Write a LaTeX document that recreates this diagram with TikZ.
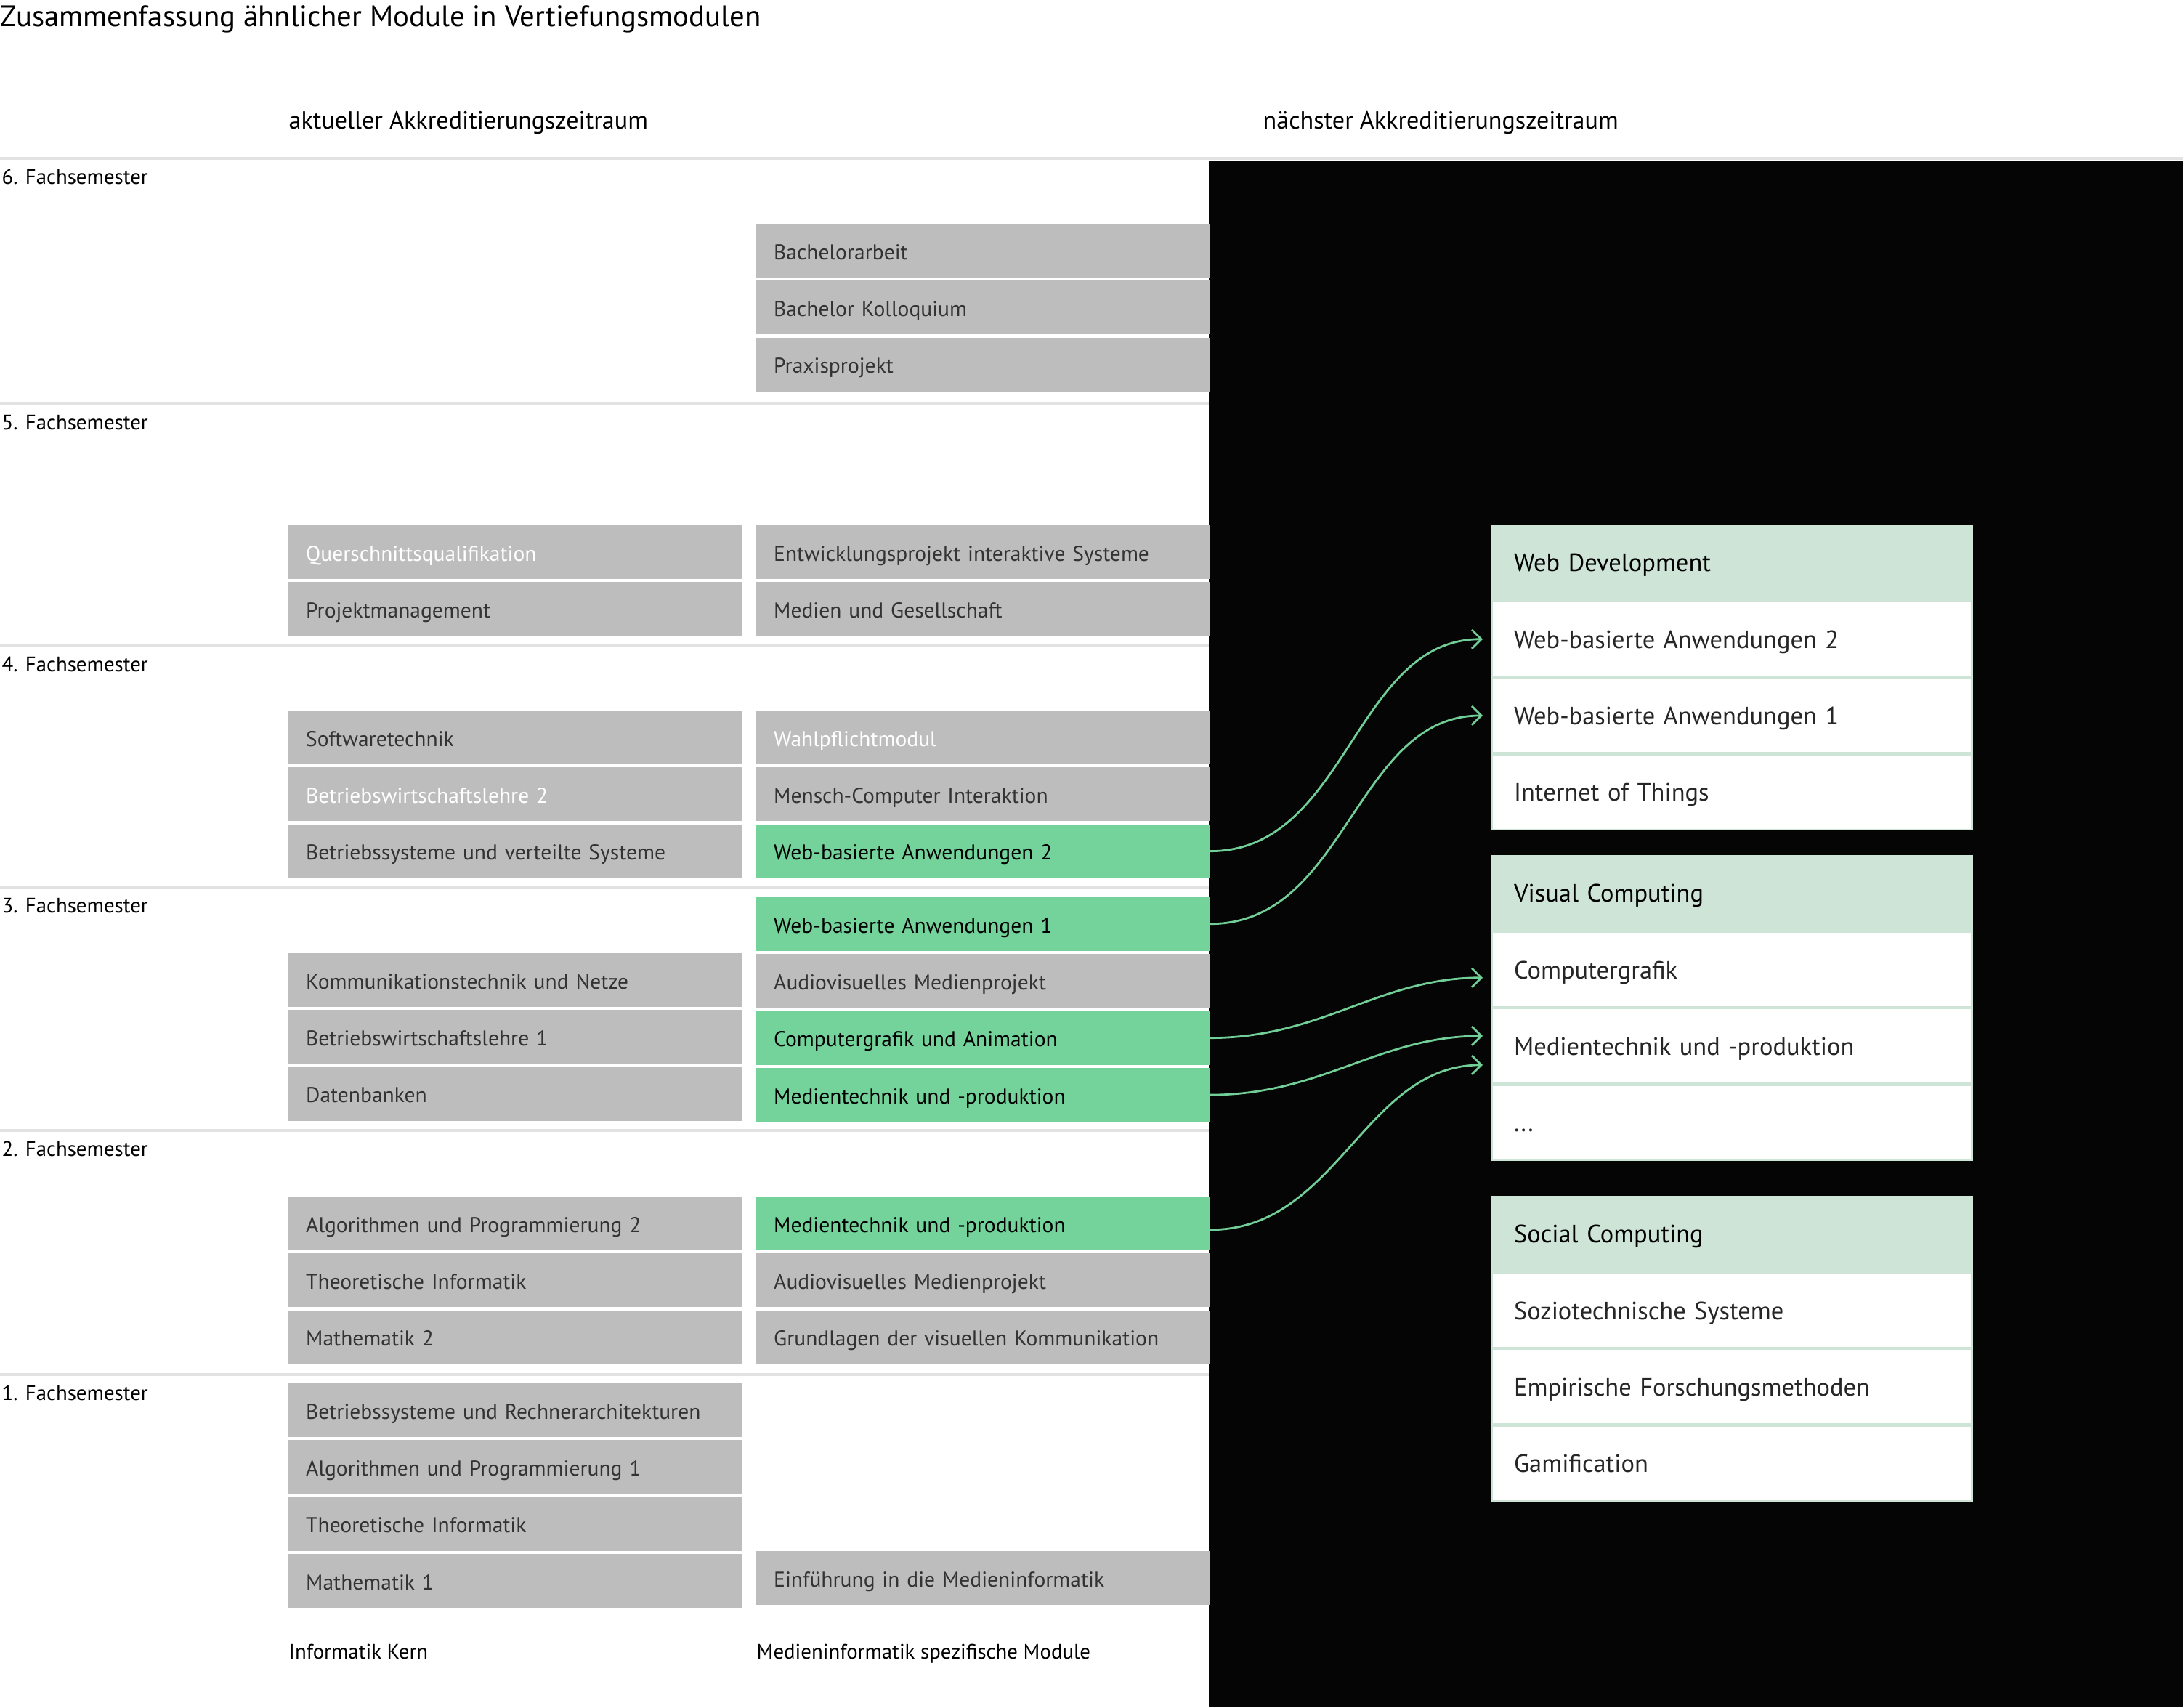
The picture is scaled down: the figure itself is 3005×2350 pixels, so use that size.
\documentclass[tikz,border=0pt]{standalone}
\usepackage{fontspec}
\setmainfont{PT Sans}
\usetikzlibrary{arrows.meta,positioning,calc}

\definecolor{modgray}{RGB}{189,189,189}
\definecolor{modgreen}{RGB}{116,211,154}
\definecolor{headgreen}{RGB}{205,228,215}
\definecolor{rulegray}{RGB}{226,226,226}
\definecolor{linkgreen}{RGB}{112,206,150}
\definecolor{textgray}{RGB}{51,51,51}
\definecolor{darkbg}{RGB}{5,5,5}

\begin{document}
\begin{tikzpicture}[x=0.01cm,y=-0.01cm,node distance=0.03cm,
  modbox/.style={fill=modgray,text=textgray,font=\fontsize{8.4}{10}\selectfont,
    minimum width=6.25cm,minimum height=0.74cm,text width=5.74cm,inner xsep=0.255cm,
    align=left,text height=0.7em,text depth=0pt,anchor=north west},
  modhit/.style={modbox,fill=modgreen,text=black},
  modwhite/.style={modbox,text=white},
  grpitem/.style={fill=white,draw=headgreen,line width=0.6pt,text=black!85,
    font=\fontsize{9.8}{12}\selectfont,minimum width=6.6cm,minimum height=1.03cm,
    text width=6.0cm,inner xsep=0.29cm,align=left,text height=0.7em,text depth=0pt},
  grphead/.style={grpitem,fill=headgreen,text=black,anchor=north west},
  semtext/.style={font=\fontsize{8.2}{10}\selectfont,inner sep=0pt,anchor=base west},
  link/.style={linkgreen,line width=0.8pt,shorten >=0.12cm,
    -{Straight Barb[length=1.3mm,width=2.6mm]}}]
  \useasboundingbox (0,0) rectangle (3005,2350);

  % title and column heads
  \node[semtext,font=\fontsize{11.6}{14}\selectfont] (title) at (0,36)
    {Zusammenfassung ähnlicher Module in Vertiefungsmodulen};
  \node[semtext,font=\fontsize{9.7}{12}\selectfont] (cur) at (397,177) {aktueller Akkreditierungszeitraum};
  \node[semtext,font=\fontsize{9.7}{12}\selectfont] (nxt) at (1738,177) {nächster Akkreditierungszeitraum};

  % semester rules
  \draw[rulegray,line width=1pt] (0,218) -- (3005,218);
  \foreach \y in {556,889,1221,1556,1892}
    \draw[rulegray,line width=1pt] (0,\y) -- (1664,\y);
  \fill[darkbg] (1664,221) rectangle (3005,2350);
  \foreach \y/\s in {218/6,556/5,889/4,1221/3,1556/2,1892/1}
    \node[semtext] (sem\s) at (2,\y+35) {\s. Fachsemester};

  % 6. Fachsemester
  \node[modbox] (ba) at (1039,307) {Bachelorarbeit};
  \node[modbox,below=of ba] (bk) {Bachelor Kolloquium};
  \node[modbox,below=of bk] (pp) {Praxisprojekt};

  % 5. Fachsemester
  \node[modwhite] (qs) at (395,722) {Querschnittsqualifikation};
  \node[modbox,below=of qs] (pm) {Projektmanagement};
  \node[modbox] (ep) at (1039,722) {Entwicklungsprojekt interaktive Systeme};
  \node[modbox,below=of ep] (mg) {Medien und Gesellschaft};

  % 4. Fachsemester
  \node[modbox] (st) at (395,977) {Softwaretechnik};
  \node[modwhite,below=of st] (bwl2) {Betriebswirtschaftslehre 2};
  \node[modbox,below=of bwl2] (bvs) {Betriebssysteme und verteilte Systeme};
  \node[modwhite] (wp) at (1039,977) {Wahlpflichtmodul};
  \node[modbox,below=of wp] (mci) {Mensch-Computer Interaktion};
  \node[modhit,below=of mci] (wba2) {Web-basierte Anwendungen 2};

  % 3. Fachsemester
  \node[modhit] (wba1) at (1039,1234) {Web-basierte Anwendungen 1};
  \node[modbox] (kn) at (395,1311) {Kommunikationstechnik und Netze};
  \node[modbox,below=of kn] (bwl1) {Betriebswirtschaftslehre 1};
  \node[modbox,below=of bwl1] (db) {Datenbanken};
  \node[modbox,below=of wba1] (avm3) {Audiovisuelles Medienprojekt};
  \node[modhit,below=of avm3] (cga) {Computergrafik und Animation};
  \node[modhit,below=of cga] (mtp3) {Medientechnik und -produktion};

  % 2. Fachsemester
  \node[modbox] (ap2) at (395,1646) {Algorithmen und Programmierung 2};
  \node[modbox,below=of ap2] (ti2) {Theoretische Informatik};
  \node[modbox,below=of ti2] (ma2) {Mathematik 2};
  \node[modhit] (mtp2) at (1039,1646) {Medientechnik und -produktion};
  \node[modbox,below=of mtp2] (avm2) {Audiovisuelles Medienprojekt};
  \node[modbox,below=of avm2] (gvk) {Grundlagen der visuellen Kommunikation};

  % 1. Fachsemester
  \node[modbox] (bsr) at (395,1903) {Betriebssysteme und Rechnerarchitekturen};
  \node[modbox,below=of bsr] (ap1) {Algorithmen und Programmierung 1};
  \node[modbox,below=of ap1] (ti1) {Theoretische Informatik};
  \node[modbox,below=of ti1] (ma1) {Mathematik 1};
  \node[modbox] (emi) at (1039,2134) {Einführung in die Medieninformatik};

  \node[semtext] (kern) at (397,2283) {Informatik Kern};
  \node[semtext] (spez) at (1041,2283) {Medieninformatik spezifische Module};

  % Vertiefungsmodule
  \node[grphead] (wd) at (2053,722) {Web Development};
  \node[grpitem,below=0cm of wd] (wd1) {Web-basierte Anwendungen 2};
  \node[grpitem,below=0cm of wd1] (wd2) {Web-basierte Anwendungen 1};
  \node[grpitem,below=0cm of wd2] (wd3) {Internet of Things};

  \node[grphead] (vc) at (2053,1177) {Visual Computing};
  \node[grpitem,below=0cm of vc] (vc1) {Computergrafik};
  \node[grpitem,below=0cm of vc1] (vc2) {Medientechnik und -produktion};
  \node[grpitem,below=0cm of vc2] (vc3) {...};

  \node[grphead] (sc) at (2053,1646) {Social Computing};
  \node[grpitem,below=0cm of sc] (sc1) {Soziotechnische Systeme};
  \node[grpitem,below=0cm of sc1] (sc2) {Empirische Forschungsmethoden};
  \node[grpitem,below=0cm of sc2] (sc3) {Gamification};

  % links
  \draw[link] (wba2.east) to[out=0,in=180] (wd1.west);
  \draw[link] (wba1.east) to[out=0,in=180] (wd2.west);
  \draw[link] (cga.east) to[out=0,in=180] ($(vc1.west)+(0,11)$);
  \draw[link] (mtp3.east) to[out=0,in=180] ($(vc2.west)+(0,-14)$);
  \draw[link] ($(mtp2.east)+(0,9)$) to[out=0,in=180] ($(vc2.west)+(0,26)$);
\end{tikzpicture}
\end{document}
